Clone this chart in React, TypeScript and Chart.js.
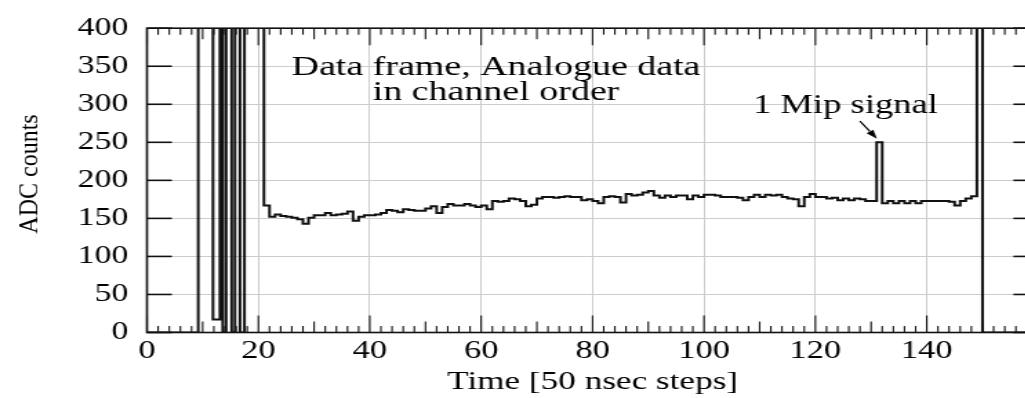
import React, { useEffect, useRef } from 'react';
import { Chart, registerables } from 'chart.js';

Chart.register(...registerables);

// ---- data ----
const OVER = 1000; // beyond the 400 top of the axis (clipped)
const headerEdges = [0, 9.2, 11.85, 13.1, 13.6, 14.2, 15.2, 15.8, 16.7, 17.5];
const headerValues = [0, OVER, 17, OVER, 0, OVER, 0, OVER, 0, OVER];
const pedestalStart = 21;
const pedestalValues = [
  167, 152, 155, 153, 152, 151, 149, 143, 151, 154, // 21-30
  154, 157, 154, 155, 156, 159, 147, 152, 154, 154, // 31-40
  155, 157, 161, 160, 158, 162, 161, 160, 160, 163, // 41-50
  166, 157, 165, 169, 167, 167, 169, 167, 165, 167, // 51-60
  162, 173, 172, 173, 176, 175, 173, 166, 168, 176, // 61-70
  178, 178, 177, 178, 179, 178, 178, 174, 175, 173, // 71-80
  170, 178, 179, 178, 171, 182, 180, 181, 184, 186, // 81-90
  180, 177, 180, 178, 180, 180, 175, 180, 178, 181, // 91-100
  181, 180, 178, 178, 178, 177, 174, 178, 181, 178, // 101-110
  181, 180, 181, 178, 176, 175, 166, 178, 182, 178, // 111-120
  178, 176, 177, 174, 176, 174, 176, 175, 173, 173, // 121-130
  250, 170, 173, 170, 173, 170, 173, 170, 173, 173, // 131-140
  173, 173, 173, 172, 167, 173, 176, 179 // 141-148
];
const trailerEdges = [149, 150, 160];
const trailerValues = [OVER, 0, 0];

const xTickLabels = ['0', '20', '40', '60', '80', '100', '120', '140'];
const yTickLabels = ['0', '50', '100', '150', '200', '250', '300', '350', '400'];

const xTitle = 'Time [50 nsec steps]';
const yTitle = 'ADC counts';
const noteLines = ['Data frame, Analogue data', 'in channel order'];
const mipLabel = '1 Mip signal';

// ---- layout / style constants ----
const FAMILY = "'Liberation Serif', 'Times New Roman', serif";
const CANVAS_W = 760;
const CANVAS_H = 398;
const STRETCH = 1.38;
const INK = '#000';

const points: { x: number; y: number }[] = [];
headerEdges.forEach((x, i) => points.push({ x, y: headerValues[i] }));
pedestalValues.forEach((v, i) => points.push({ x: pedestalStart + i, y: v }));
trailerEdges.forEach((x, i) => points.push({ x, y: trailerValues[i] }));

const framePlugin = {
  id: 'frameTicks',
  afterDatasetsDraw(chart: any) {
    const { ctx, chartArea: a, scales } = chart;
    const xs = scales.x;
    const ys = scales.y;
    ctx.save();
    ctx.strokeStyle = '#111';
    const seg = (x1: number, y1: number, x2: number, y2: number) => {
      ctx.beginPath();
      ctx.moveTo(x1, y1);
      ctx.lineTo(x2, y2);
      ctx.stroke();
    };
    ctx.lineWidth = 1.1;
    for (let v = 0; v <= 160; v += 2) {
      const px = xs.getPixelForValue(v);
      const len = v % 20 === 0 ? 17 : v % 10 === 0 ? 11 : 6.5;
      seg(px, a.bottom, px, a.bottom - len);
      seg(px, a.top, px, a.top + len);
    }
    ctx.lineWidth = 1.6;
    for (let v = 0; v <= 400; v += 50) {
      const py = ys.getPixelForValue(v);
      seg(a.left, py, a.left + 18, py);
      seg(a.right, py, a.right - 18, py);
    }
    ctx.lineWidth = 1.6;
    ctx.strokeRect(a.left, a.top, a.right - a.left, a.bottom - a.top);
    ctx.restore();
  },
};

const notePlugin = {
  id: 'notes',
  afterDraw(chart: any) {
    const { ctx, scales } = chart;
    const xs = scales.x;
    const ys = scales.y;
    ctx.save();
    ctx.fillStyle = INK;
    ctx.strokeStyle = INK;
    ctx.textAlign = 'center';
    ctx.textBaseline = 'alphabetic';
    ctx.font = `27.5px ${FAMILY}`;
    ctx.fillText(noteLines[0], xs.getPixelForValue(62.66), ys.getPixelForValue(338.9));
    ctx.fillText(noteLines[1], xs.getPixelForValue(62.66), ys.getPixelForValue(305.7));
    ctx.font = `26.5px ${FAMILY}`;
    ctx.fillText(mipLabel, xs.getPixelForValue(125.4), ys.getPixelForValue(288.2));

    // arrow
    const tx = xs.getPixelForValue(128.0);
    const ty = ys.getPixelForValue(277.9);
    const hx = xs.getPixelForValue(131.06);
    const hy = ys.getPixelForValue(254.6);
    const ang = Math.atan2(hy - ty, hx - tx);
    const headLen = 9;
    const headW = 3;
    const bx = hx - headLen * Math.cos(ang);
    const by = hy - headLen * Math.sin(ang);
    ctx.lineWidth = 1.2;
    ctx.beginPath();
    ctx.moveTo(tx, ty);
    ctx.lineTo(bx, by);
    ctx.stroke();
    ctx.beginPath();
    ctx.moveTo(hx, hy);
    ctx.lineTo(bx + headW * Math.sin(ang), by - headW * Math.cos(ang));
    ctx.lineTo(bx - headW * Math.sin(ang), by + headW * Math.cos(ang));
    ctx.closePath();
    ctx.fill();

    // y-axis title
    ctx.save();
    ctx.translate(21.7, 174);
    ctx.rotate(-Math.PI / 2);
    ctx.scale(1, 0.8);
    ctx.font = `24px ${FAMILY}`;
    ctx.textAlign = 'center';
    ctx.textBaseline = 'middle';
    ctx.fillText(yTitle, 0, 0);
    ctx.restore();

    ctx.restore();
  },
};

export default function App() {
  const ref = useRef<HTMLCanvasElement>(null);
  useEffect(() => {
    const canvas = ref.current;
    if (!canvas) return;
    const chart = new Chart(canvas, {
      type: 'line',
      data: {
        datasets: [
          {
            data: points,
            stepped: true,
            borderColor: '#111',
            borderWidth: 2,
            pointRadius: 0,
            fill: false,
            tension: 0,
          },
        ],
      },
      options: {
        animation: false,
        responsive: false,
        maintainAspectRatio: false,
        devicePixelRatio: 1,
        events: [],
        layout: { padding: { top: 19.5, right: 7.7, left: 0, bottom: 0 } },
        plugins: { legend: { display: false }, tooltip: { enabled: false } },
        scales: {
          x: {
            type: 'linear',
            min: 0,
            max: 160,
            border: { display: false },
            grid: { color: '#cccccc', lineWidth: 1, drawTicks: false },
            ticks: {
              stepSize: 20,
              autoSkip: false,
              maxRotation: 0,
              padding: 4.3,
              color: INK,
              font: { family: FAMILY, size: 25 },
              callback: (v: any) => (xTickLabels.includes(String(v)) ? String(v) : ''),
            },
            title: {
              display: true,
              text: xTitle,
              color: INK,
              font: { family: FAMILY, size: 25.5 },
              padding: { top: 0, bottom: 0.3 },
            },
            afterFit: (s: any) => {
              s.height = 65.5;
            },
          },
          y: {
            type: 'linear',
            min: 0,
            max: 400,
            border: { display: false },
            grid: { color: '#cccccc', lineWidth: 1, drawTicks: false },
            ticks: {
              stepSize: 50,
              padding: 13.5,
              color: INK,
              font: { family: FAMILY, size: 24.5 },
              callback: (v: any) => (yTickLabels.includes(String(v)) ? String(v) : ''),
            },
            afterFit: (s: any) => {
              s.width = 106.5;
            },
          },
        },
      },
      plugins: [framePlugin, notePlugin],
    } as any);
    return () => chart.destroy();
  }, []);

  return (
    <div
      style={{
        position: 'fixed',
        left: 0,
        top: 0,
        width: 1025,
        height: 398,
        overflow: 'hidden',
        background: '#fff',
      }}
    >
      <canvas
        ref={ref}
        width={CANVAS_W}
        height={CANVAS_H}
        style={{
          display: 'block',
          width: CANVAS_W + 'px',
          height: CANVAS_H + 'px',
          transform: `scaleX(${STRETCH})`,
          transformOrigin: '0 0',
        }}
      />
    </div>
  );
}
